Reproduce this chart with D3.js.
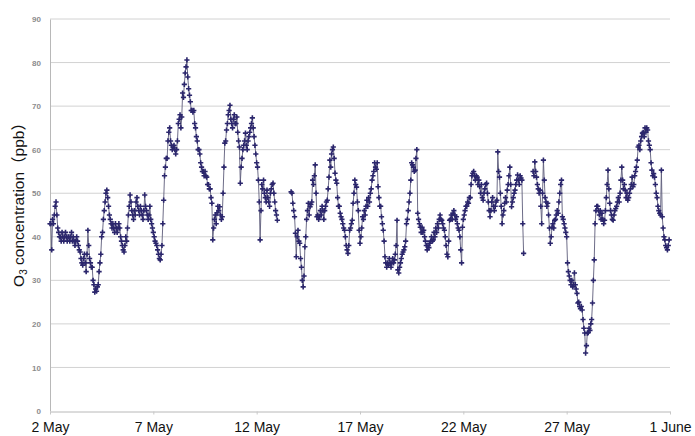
<!DOCTYPE html>
<html>
<head>
<meta charset="utf-8">
<script src="https://cdn.jsdelivr.net/npm/d3@7"></script>
<style>
  body { margin: 0; background: #fff; }
  svg { display: block; }
</style>
</head>
<body>
<div id="chart"></div>
<script>
const width = 695
const height = 436

const tickHours = [0, 120, 240, 360, 480, 600, 720]
const tickLabels = ['2 May', '7 May', '12 May', '17 May', '22 May', '27 May', '1 June']
const yTicks = [0, 10, 20, 30, 40, 50, 60, 70, 80, 90]

// hourly O3 (ppb), one row per day starting 2 May 00:00, null = missing
const o3ByDay = [
    [43,43,37,44,43,45,47,48,45,42,41,40,40,39,41,40,39,40,41,40,39,40,40,39],
    [40,41,39,40,39,38,39,40,39,38,37,36.5,35,34,33.5,35,36,34,32,36,41.5,38,35,34],
    [33,33,30,29,27.3,28,27.5,28.5,29,32,34,36,40,41,44,46,48,50,50.7,49,47,45,44,43],
    [42,43,42,41,43,42,41,42,43,42,40,39,38,37,36.5,38,40,39,42,45,47,49.6,48,46],
    [45,44,46,45,48,49,47,46,45,47,46,45,44,46,49.6,47,46,45,44,45,47,44,43,42],
    [41,40,39,38.5,38,37,36,35,34.7,36,38,43,48.4,54,56,58,58,62,64,65,62,61,60,60.6],
    [61,60,59,60,62,66,67,68,65,67.5,73,72,75,77.6,79,80.6,76.7,74,72.5,71,69,69,68.6,69],
    [66,65,63,62,60,60,59,57,56,55,55,54,55,54,53.7,52,52,51,51,49,47.7,39.3,42,44],
    [45,43,45.5,47,46,46.9,45,44,44.6,50,56,61.5,62,64.5,66,68,69,70.2,67,66,65,67,68,66],
    [66,67.5,64,62,60.6,52.3,56,58,60,61,62,63.8,61,60,62,63,64,65,66,67.3,65,63,61,59],
    [57,56,53,48,39.3,46,52,51,53,50,49,48,50.7,49,48,47,50,51,52,52.3,50,48,46,45],
    [43.8,null,null,null,null,null,null,null,null,null,null,null,null,null,null,null,50.3,50,47.7,46,44.6,40.8,35.4,40],
    [41.5,39,38.5,35,33,30,28.5,31,37.7,40,44,46,47.7,45,46.9,47.4,48,53,52,54,56.5,50,44.6,45],
    [44,44.6,46,45,47,46,44,46,47,48,48.4,51,53.7,57.6,56,59,60,60.6,58,54.6,53,52.3,49,47],
    [47,45.4,44.6,44,43,42,41.5,40,38,37,36.2,38,41.5,42,43,43.8,47.7,50,53,52,51.4,48,46,41.5],
    [38.5,40,42,44.6,44,46,45,47,48.4,47,49,48,50,51,53,54,55,57,56,55.5,57,51.5,49,47],
    [47,44.6,43,41.5,39,35.4,34,33,34,33.5,35,34,33,34,35,34,34.7,36,38,43.8,32.4,31.7,33,34],
    [35,36,36.5,37,37.7,39,43,44,46,48,50,53,57,56.5,56,55,55.3,58,60,45.4,44,43,42.2,41],
    [42.2,41,41.5,40,39,38,37,38,37.5,38.5,39,40,39,39.3,41,40,42,41,43,42,44,45,44,43.8],
    [43,42,41.5,40,38,36,35.4,39,43.8,44,45,44,45.4,46,45,44,44.6,43,42,41.5,40,37,34,42.2],
    [44,45,46,47,47,48,47.7,49,49,52,54,54.6,55,54,53,54,53.7,52,53,51.5,50,52,49,48.4],
    [50,51,52,52.3,50,48,46,44.6,46,48,49,47,46,47,48,48.4,59.5,55,53.7,50,47,43,45,46],
    [47.7,49,48,50.7,52,54,56,52,46.9,48,49,50,50.7,52,53,54.2,53,52,54,53.5,53,43,36.2,null],
    [null,null,null,null,null,null,null,null,null,55,54,57.2,55,53.7,52,51,50,50.7,47,43,50,57.6,53,49],
    [48,47,47.7,45,42,38.5,40,42.2,43,42,43.8,44,45,46,45.4,48,50,52,53,44.6,44,43,42,41],
    [40,34,32,31,30,29,30,28.5,29,31.7,29,28,27,24.8,25,24,23.5,24,23.2,21,19,17.9,13.3,15],
    [17.9,18,19,18.5,20,21,24.8,30,34.7,43,46,47,47,46,45,46,44,45.4,44,43,43.8,46,49,52],
    [55.3,51,47.7,46,45,44,43.8,45,46,46.5,47,48,49,48,50,53,56,53,51,52,50.7,49,50,48.4],
    [49,50,51,52,53.7,51.5,52,54,55,56,57.6,60.6,61,60,62,63,63.8,64,63,65,64,65,64.5,62],
    [61,60,57,55.3,54,54.5,53.7,52,50,49,47,46,45.4,45,55.3,44.6,42,40,39.3,38,37.5,37,38,39.3]
]

const data = o3ByDay.flat().map((v, i) => ({hour: i, value: v}))

const x = d3.scaleLinear().domain([0, 720]).range([50, 670])
const y = d3.scaleLinear().domain([0, 90]).range([411, 19])

const svg = d3.select('#chart').append('svg').attr('width', width).attr('height', height)

svg.append('g').selectAll('line').data(yTicks.slice(1)).enter().append('line')
    .attr('x1', 50).attr('x2', 670)
    .attr('y1', d => y(d)).attr('y2', d => y(d))
    .attr('stroke', '#d2d2d2').attr('stroke-width', 1)

const yAxis = svg.append('g').attr('transform', 'translate(50,0)')
    .call(d3.axisLeft(y).tickValues(yTicks).tickSize(0).tickPadding(9))
yAxis.select('.domain').attr('stroke', '#b8b8b8')
yAxis.selectAll('text').attr('font-size', 8).attr('fill', '#8c8c8c')
    .attr('font-family', 'Liberation Sans Narrow, Arial, sans-serif').attr('font-weight', 'bold')

const xAxis = svg.append('g').attr('transform', 'translate(0,411.5)')
    .call(d3.axisBottom(x).tickValues(tickHours).tickFormat((d, i) => tickLabels[i]).tickSizeOuter(0).tickSizeInner(3).tickPadding(8))
xAxis.select('.domain').attr('stroke', '#b8b8b8')
xAxis.selectAll('line').attr('stroke', '#c8c8c8')
xAxis.selectAll('text').attr('font-size', 14).attr('fill', '#111')
    .attr('font-family', 'Liberation Sans, Arial, sans-serif')

const line = d3.line().defined(d => d.value != null).x(d => x(d.hour)).y(d => y(d.value))

svg.append('path').datum(data).attr('d', line)
    .attr('fill', 'none').attr('stroke', '#5e5c7a').attr('stroke-width', 0.9)

svg.append('g').selectAll('path').data(data.filter(d => d.value != null)).enter().append('path')
    .attr('d', 'M-2.6,0H2.6M0,-2.6V2.6')
    .attr('transform', d => `translate(${x(d.hour)},${y(d.value)})`)
    .attr('stroke', '#2b266c').attr('stroke-width', 1.6).attr('fill', 'none')

const title = svg.append('text')
    .attr('transform', 'translate(24,201) rotate(-90)')
    .attr('text-anchor', 'middle')
    .attr('font-size', 15.5)
    .attr('font-family', 'Liberation Sans, Arial, "Noto Sans CJK JP", sans-serif')
    .attr('fill', '#111')
title.append('tspan').text('O')
title.append('tspan').text('3').attr('font-size', 10).attr('dy', 3)
title.append('tspan').text(' concentration（ppb）').attr('dy', -3)
</script>
</body>
</html>
